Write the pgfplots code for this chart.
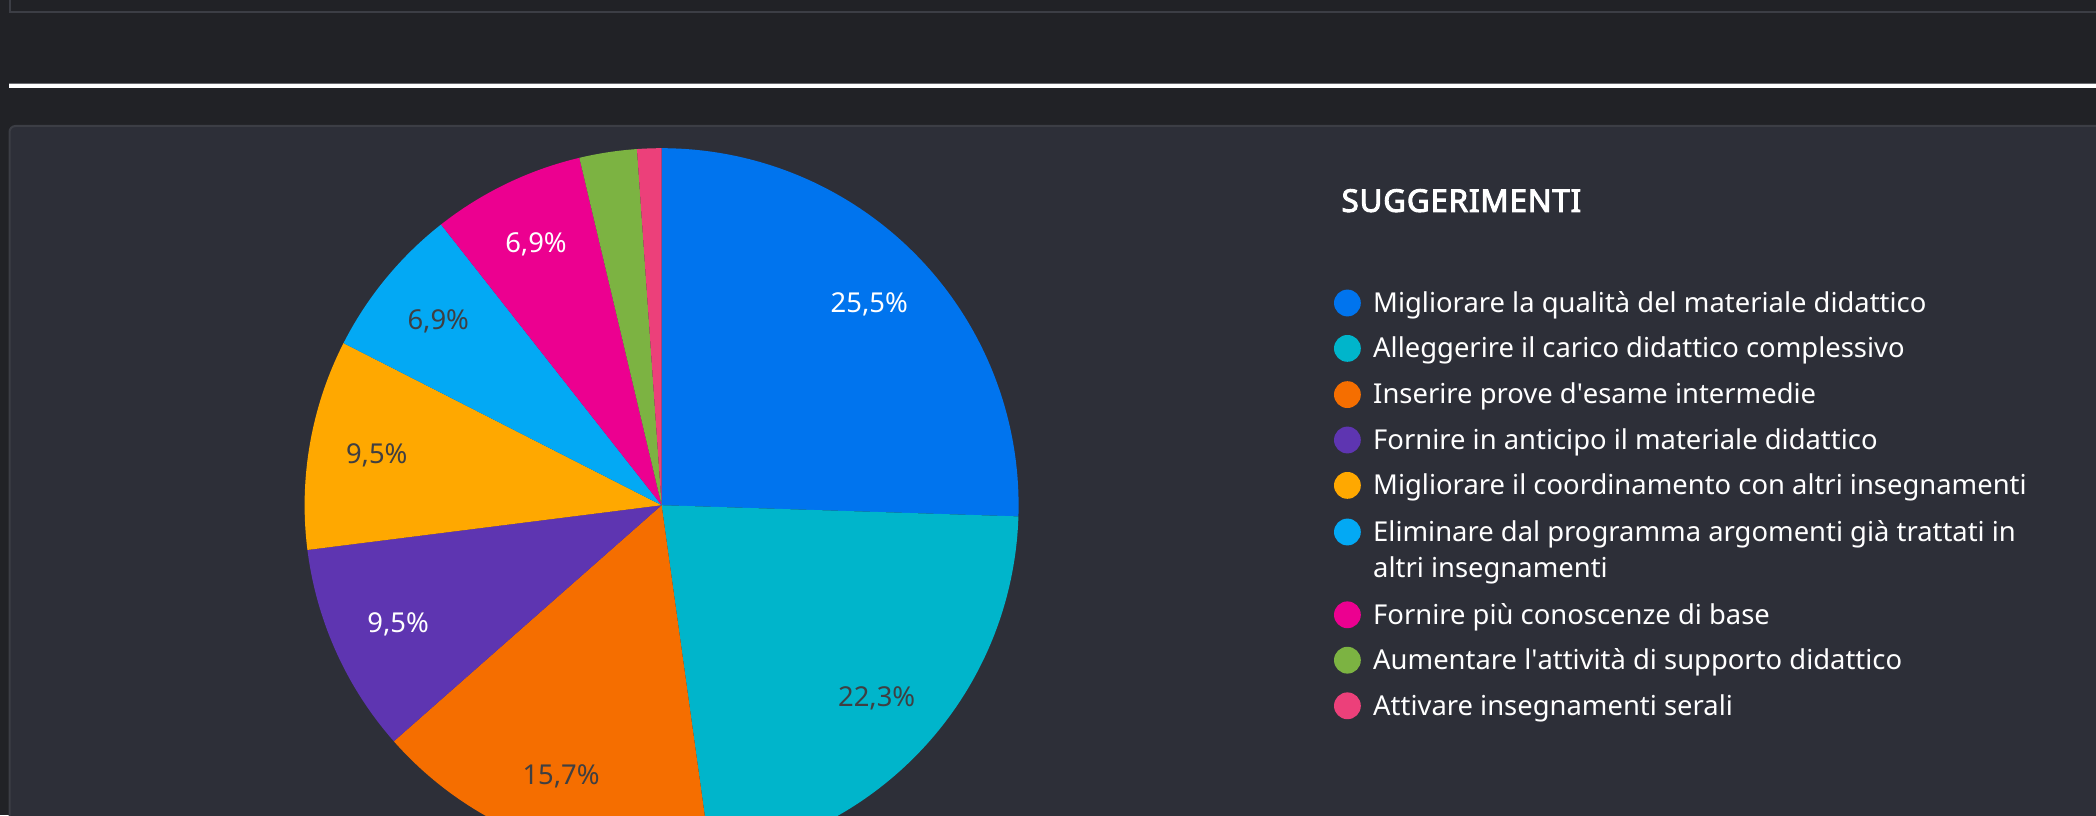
\documentclass[border=0pt]{standalone}
\usepackage{pgfplots}
\usepackage{pgfplotstable}
\pgfplotsset{compat=1.18}
\usepackage{fontspec}
\setmainfont{Noto Sans}
\newfontfamily\titlefont{Noto Sans}[FakeBold=3.2, LetterSpace=2.8]
\definecolor{bgout}{HTML}{212226}
\definecolor{panel}{HTML}{2D2F38}
\definecolor{panelborder}{HTML}{3C3E45}
\definecolor{grayline}{HTML}{6A6B70}
\definecolor{labdark}{HTML}{3F3F42}
\definecolor{cBlue}{HTML}{0074EE}
\definecolor{cCyan}{HTML}{00B5CB}
\definecolor{cOrange}{HTML}{F56E00}
\definecolor{cPurple}{HTML}{5E35B1}
\definecolor{cAmber}{HTML}{FFA800}
\definecolor{cLBlue}{HTML}{03A9F4}
\definecolor{cMagenta}{HTML}{EC0090}
\definecolor{cGreen}{HTML}{7CB342}
\definecolor{cPink}{HTML}{EC407A}

\pgfplotstableread{
value col txt show
25.5 cBlue white 1
22.3 cCyan labdark 1
15.7 cOrange labdark 1
9.5 cPurple white 1
9.5 cAmber labdark 1
6.9 cLBlue labdark 1
6.9 cMagenta white 1
2.6 cGreen white 0
1.1 cPink white 0
}\piedata

\begin{document}
\begin{tikzpicture}[x=1pt,y=1pt]
\path[use as bounding box] (0,0) rectangle (1048,407.5);
\clip (0,0) rectangle (1048,407.5);
\fill[bgout] (0,0) rectangle (1048,407.5);
% top panel
\draw[panelborder, line width=1pt] (4.75,420) -- (4.75,401.5) -- (1060,401.5);
% white separator
\fill[grayline] (4.5,365.3) rectangle (1060,366.0);
\fill[white] (4.5,363.4) rectangle (1060,365.3);
% lower panel
\draw[panelborder, fill=panel, line width=1pt, rounded corners=3pt] (4.75,-20) rectangle (1060,344.5);

\begin{axis}[hide axis, scale only axis, width=357pt, height=357pt,
  xmin=-1, xmax=1, ymin=-1, ymax=1, at={(330.8pt,154.9pt)}, anchor=center, clip=false,
  /pgf/number format/assume math mode=true]
\pgfplotsextra{%
  \gdef\cum{0}%
  \foreach \i in {0,...,8}{%
    \pgfplotstablegetelem{\i}{value}\of\piedata \let\v\pgfplotsretval
    \pgfplotstablegetelem{\i}{col}\of\piedata \let\c\pgfplotsretval
    \pgfplotstablegetelem{\i}{txt}\of\piedata \let\tc\pgfplotsretval
    \pgfplotstablegetelem{\i}{show}\of\piedata \let\sh\pgfplotsretval
    \pgfmathsetmacro\a{90-\cum*3.6}%
    \pgfmathsetmacro\b{90-(\cum+\v)*3.6}%
    \pgfmathsetmacro\m{(\a+\b)/2}%
    \fill[\c] (axis cs:0,0) -- (axis cs:{cos(\a)},{sin(\a)}) arc[start angle=\a, end angle=\b, radius=178.5pt] -- cycle;
    \ifnum\sh=1
      \node[text=\tc, font=\fontsize{13.7}{15}\selectfont, inner sep=0pt] at (axis cs:{0.81*cos(\m)},{0.81*sin(\m)})
        {\pgfmathprintnumber[fixed, precision=1, fixed zerofill, use comma, assume math mode=true]{\v}\%};
    \fi
    \pgfmathsetmacro\newcum{\cum+\v}%
    \xdef\cum{\newcum}%
  }%
}
\end{axis}

% legend
\node[anchor=base west, inner sep=0pt, text=white, font=\fontsize{15.6}{17}\selectfont\titlefont] at (670.6,301.6) {SUGGERIMENTI};
\begin{scope}[every node/.style={anchor=base west, inner sep=0pt, text=white, font=\fontsize{13.7}{15}\selectfont}]
\fill[cBlue]    (673.7,256.0) circle (6.7); \node at (686.4,251.4) {Migliorare la qualità del materiale didattico};
\fill[cCyan]    (673.7,233.3) circle (6.7); \node at (686.4,228.7) {Alleggerire il carico didattico complessivo};
\fill[cOrange]  (673.7,210.2) circle (6.7); \node at (686.4,205.6) {Inserire prove d\textquotesingle esame intermedie};
\fill[cPurple]  (673.7,187.5) circle (6.7); \node at (686.4,182.9) {Fornire in anticipo il materiale didattico};
\fill[cAmber]   (673.7,164.8) circle (6.7); \node at (686.4,160.2) {Migliorare il coordinamento con altri insegnamenti};
\fill[cLBlue]   (673.7,141.5) circle (6.7); \node at (686.4,136.9) {Eliminare dal programma argomenti già trattati in};
\node at (686.4,118.9) {altri insegnamenti};
\fill[cMagenta] (673.7,100.1) circle (6.7); \node at (686.4,95.5) {Fornire più conoscenze di base};
\fill[cGreen]   (673.7,77.4) circle (6.7); \node at (686.4,72.8) {Aumentare l\textquotesingle attività di supporto didattico};
\fill[cPink]    (673.7,54.6) circle (6.7); \node at (686.4,50.0) {Attivare insegnamenti serali};
\end{scope}
\end{tikzpicture}
\end{document}
